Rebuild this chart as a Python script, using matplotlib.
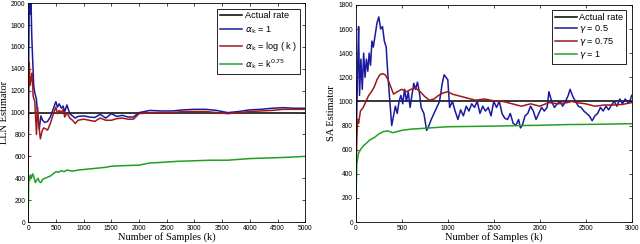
import matplotlib
matplotlib.use("Agg")
import matplotlib.pyplot as plt

# ---- left panel: LLN estimator ----
lln_actual = 1000
lln_x_blue = [0, 10, 20, 35, 50, 65, 80, 100, 120, 150, 170, 200, 230, 260, 300, 350, 400, 450,
              500, 530, 560, 600, 630, 660, 700, 750, 800, 850, 900, 1000, 1100, 1200, 1300, 1400,
              1500, 1600, 1700, 1800, 1900, 2000, 2200, 2400, 2600, 2800, 3000, 3200, 3400, 3600,
              3800, 4000, 4200, 4400, 4600, 4800, 5000]
lln_y_blue = [700, 1500, 2050, 1900, 2050, 1700, 1500, 1250, 1180, 1120, 980, 850, 970, 930, 910, 920, 960, 1030,
              1100, 1050, 1080, 1040, 1060, 1010, 1070, 990, 970, 950, 965, 970, 960, 955, 985, 950,
              990, 965, 975, 960, 960, 1000, 1020, 1015, 1015, 1025, 1030, 1030, 1020, 1000,
              1010, 1025, 1030, 1040, 1045, 1040, 1040]
lln_x_red = [0, 10, 20, 35, 50, 70, 90, 120, 150, 170, 200, 220, 250, 280, 320, 350, 400, 450,
             500, 530, 560, 600, 630, 660, 700, 750, 800, 850, 900, 1000, 1100, 1200, 1300, 1400,
             1500, 1600, 1700, 1800, 1900, 2000, 2200, 2400, 2600, 2800, 3000, 3200, 3400, 3600,
             3800, 4000, 4200, 4400, 4600, 4800, 5000]
lln_y_red = [400, 1200, 1460, 1250, 1300, 1360, 1150, 1100, 800, 1050, 850, 760, 830, 860, 850, 840, 900, 980,
             1050, 990, 1020, 1000, 1030, 960, 1000, 950, 930, 900, 930, 940, 930, 920, 950, 930,
             930, 945, 950, 940, 940, 990, 1000, 1000, 1000, 1010, 1010, 1010, 1000, 990,
             1000, 1010, 1015, 1020, 1030, 1030, 1030]
lln_x_green = [0, 10, 25, 40, 60, 80, 100, 130, 150, 180, 200, 230, 260, 300, 350, 400, 450, 500,
               550, 600, 650, 700, 800, 900, 1000, 1200, 1400, 1500, 1700, 2000, 2200, 2400, 2700,
               3000, 3300, 3600, 4000, 4300, 4600, 5000]
lln_y_green = [0, 420, 380, 430, 400, 440, 420, 360, 380, 400, 370, 360, 390, 400, 410, 420, 440, 460,
               455, 470, 460, 475, 465, 475, 480, 490, 500, 510, 515, 520, 540, 545, 555,
               560, 565, 565, 580, 585, 590, 600]

# ---- right panel: SA estimator ----
sa_actual = 1000
sa_x_blue = [0, 10, 20, 30, 40, 55, 70, 85, 100, 115, 130, 145, 160, 175, 190, 210, 230, 250, 270,
             290, 310, 330, 350, 370, 390, 410, 430, 450, 470, 490, 510, 530, 550, 570, 590, 610,
             630, 650, 670, 690, 710, 740, 770, 790, 820, 850, 880, 910, 940, 960, 980, 1000, 1020,
             1050, 1080, 1110, 1140, 1170, 1200, 1230, 1260, 1290, 1320, 1350, 1380, 1410, 1440,
             1470, 1500, 1530, 1560, 1590, 1620, 1650, 1680, 1710, 1740, 1770, 1790, 1810, 1840,
             1870, 1900, 1930, 1960, 1990, 2020, 2050, 2080, 2100, 2130, 2160, 2190, 2220, 2250,
             2280, 2310, 2330, 2360, 2390, 2420, 2450, 2480, 2510, 2540, 2570, 2600, 2630, 2660,
             2690, 2720, 2750, 2780, 2810, 2840, 2870, 2900, 2930, 2960, 2980, 3000]
sa_y_blue = [300, 900, 1300, 1620, 1050, 1350, 1100, 1400, 1200, 1350, 1250, 1400, 1300, 1500, 1450, 1550, 1650, 1700, 1600,
             1620, 1500, 1450, 1200, 1000, 800, 880, 960, 900, 1000, 1050, 980, 1100, 1000, 1080, 950, 1050,
             1150, 1100, 1160, 1080, 950, 900, 760, 790, 850, 900, 950, 1000, 1150, 1220, 1200, 1180, 950,
             1000, 920, 850, 930, 880, 960, 920, 980, 950, 1000, 900, 960, 920, 950,
             880, 1000, 950, 1000, 900, 860, 850, 900, 820, 800, 850, 780, 800, 880,
             900, 960, 920, 850, 900, 950, 920, 950, 1080, 1000, 950, 980, 1000, 960,
             1000, 1050, 1100, 1040, 1000, 960, 950, 920, 900, 880, 840, 880, 900, 950,
             920, 960, 930, 970, 1000, 960, 1020, 980, 1020, 990, 1000, 1050]
sa_x_red = [0, 10, 20, 30, 50, 80, 110, 140, 170, 200, 230, 260, 290, 320, 350, 380, 410, 450,
            500, 550, 600, 650, 700, 750, 800, 850, 900, 950, 1000, 1050, 1100, 1200, 1300,
            1400, 1500, 1550, 1600, 1700, 1800, 1900, 2000, 2100, 2200, 2300, 2350, 2400, 2500,
            2600, 2700, 2800, 2900, 3000]
sa_y_red = [300, 700, 850, 820, 920, 950, 1000, 1050, 1080, 1120, 1180, 1220, 1230, 1220, 1180, 1120, 1060, 1080,
            1100, 1080, 1100, 1110, 1080, 1040, 1010, 1020, 1050, 1070, 1080, 1060, 1050, 1030, 1010,
            1020, 1005, 1000, 1000, 980, 960, 980, 960, 990, 980, 990, 1000, 990, 980,
            960, 970, 970, 975, 990]
sa_x_green = [0, 5, 10, 20, 30, 50, 80, 110, 150, 200, 250, 300, 350, 400, 450, 500, 600, 700,
              800, 900, 1000, 1200, 1500, 1800, 2000, 2300, 2600, 3000]
sa_y_green = [0, 300, 480, 530, 570, 600, 630, 650, 680, 700, 730, 750, 755, 740, 750, 760, 770, 775,
              780, 785, 790, 792, 795, 800, 802, 808, 810, 815]

BLUE = "#1a1aa0"
RED = "#a01818"
GREEN = "#22a022"

plt.rcParams["font.family"] = ["Liberation Sans", "DejaVu Sans"]
plt.rcParams["mathtext.fontset"] = "dejavusans"

fig = plt.figure(figsize=(6.4, 2.44), dpi=100)
ax1 = fig.add_axes([0.044, 0.09, 0.433, 0.897])
ax2 = fig.add_axes([0.556, 0.09, 0.431, 0.89])


def style(ax, xmax, ymax, ylabel):
    ax.set_xlim(0, xmax)
    ax.set_ylim(0, ymax)
    ax.tick_params(direction="in", top=True, right=True, labelsize=4.8, length=2, width=0.5, pad=2)
    for s in ax.spines.values():
        s.set_linewidth(0.6)
    ax.set_xlabel("Number of Samples (k)", family="Liberation Serif", fontsize=7.5, labelpad=0.5)
    ax.set_ylabel(ylabel, family="Liberation Serif", fontsize=7.5, labelpad=1.5)


lw = 1.1
ax1.plot([0, 5000], [lln_actual, lln_actual], color="black", lw=lw, label="Actual rate")
ax1.plot(lln_x_blue, lln_y_blue, color=BLUE, lw=lw, label=r"$\alpha_\mathrm{k}$ = 1")
ax1.plot(lln_x_red, lln_y_red, color=RED, lw=lw, label=r"$\alpha_\mathrm{k}$ = log ( k )")
ax1.plot(lln_x_green, lln_y_green, color=GREEN, lw=lw, label=r"$\alpha_\mathrm{k}$ = k$^{0.75}$")
style(ax1, 5000, 2000, "LLN Estimator")
ax1.set_xticks(range(0, 5001, 500))
ax1.set_yticks(range(0, 2001, 200))

ax2.plot([0, 3000], [sa_actual, sa_actual], color="black", lw=lw, label="Actual rate")
ax2.plot(sa_x_blue, sa_y_blue, color=BLUE, lw=lw, label=r"$\gamma$ = 0.5")
ax2.plot(sa_x_red, sa_y_red, color=RED, lw=lw, label=r"$\gamma$ = 0.75")
ax2.plot(sa_x_green, sa_y_green, color=GREEN, lw=lw, label=r"$\gamma$ = 1")
style(ax2, 3000, 1800, "SA Estimator")
ax2.set_xticks(range(0, 3001, 500))
ax2.set_yticks(range(0, 1801, 200))

for ax, sp in ((ax1, 0.45), (ax2, 0.1)):
    leg = ax.legend(loc="upper right", fontsize=6.6, fancybox=False, edgecolor="black",
                    framealpha=1, borderaxespad=0.6, handlelength=2.4, handletextpad=0.3,
                    labelspacing=sp, borderpad=0.3)
    leg.get_frame().set_linewidth(0.6)

fig.savefig("out.png", dpi=100)
